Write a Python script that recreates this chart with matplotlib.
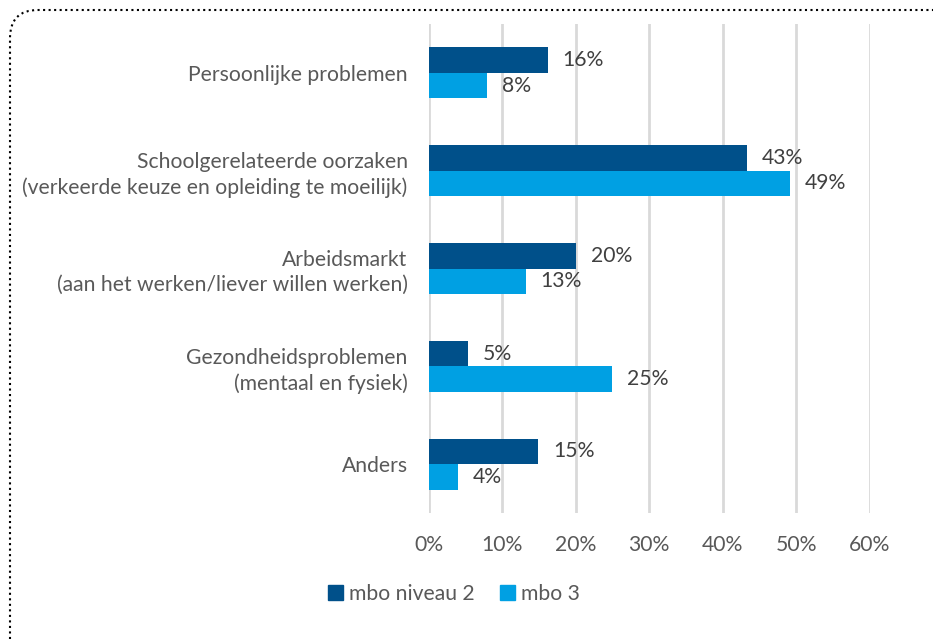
import numpy as np
import matplotlib
matplotlib.use("Agg")
import matplotlib.pyplot as plt
from matplotlib.patches import FancyBboxPatch, Patch

plt.rcParams['font.family'] = ['Lato', 'DejaVu Sans']

categories = ["Persoonlijke problemen",
              "Schoolgerelateerde oorzaken\n(verkeerde keuze en opleiding te moeilijk)",
              "Arbeidsmarkt\n(aan het werken/liever willen werken)",
              "Gezondheidsproblemen\n(mentaal en fysiek)",
              "Anders"]
niveau2 = [16.2, 43.3, 20.1, 5.4, 14.9]
mbo3 = [8.0, 49.1, 13.2, 25.0, 4.0]
series_names = ["mbo niveau 2", "mbo 3"]
xticks = [0, 10, 20, 30, 40, 50, 60]

dark = "#00508A"
light = "#00A0E3"
grey = "#595959"
fs = 15.2

fig = plt.figure(figsize=(9.33, 6.39), dpi=100)
ax = fig.add_axes([428.5/933, 1-513/639, (870-428.5)/933, (513-24)/639])

y = np.arange(len(categories))
h = 0.26
ax.barh(y - h/2, niveau2, height=h, color=dark, zorder=3)
ax.barh(y + h/2, mbo3, height=h, color=light, zorder=3)

for yi, v in zip(y, niveau2):
    ax.text(v + 2.0, yi - h/2, "%.0f%%" % v, va='center', ha='left', fontsize=fs, color="#404040")
for yi, v in zip(y, mbo3):
    ax.text(v + 2.0, yi + h/2, "%.0f%%" % v, va='center', ha='left', fontsize=fs, color="#404040")

ax.set_xlim(0, 60)
ax.set_ylim(len(categories) - 0.5, -0.5)
ax.set_xticks(xticks)
ax.set_xticklabels(["%d%%" % t for t in xticks], fontsize=fs, color=grey)
ax.set_yticks(y)
ax.set_yticklabels(categories, fontsize=fs, color=grey, linespacing=1.3)
ax.tick_params(axis='y', length=0, pad=15)
ax.tick_params(axis='x', length=0, pad=16)
ax.grid(axis='x', color="#D9D9D9", linewidth=2, zorder=0)
for s in ax.spines.values():
    s.set_visible(False)

handles = [Patch(color=dark, label=series_names[0]), Patch(color=light, label=series_names[1])]
leg = fig.legend(handles=handles, loc='center', bbox_to_anchor=(454/933, 1-594/639), ncol=2,
                 frameon=False, fontsize=fs, handlelength=0.7, handleheight=0.7,
                 handletextpad=0.3, columnspacing=1.2)
for t in leg.get_texts():
    t.set_color(grey)

# dotted rounded border, cut off at right and bottom
border = FancyBboxPatch((10/933, -0.05), 1.1, 1 - 10/639 + 0.05,
                        boxstyle="round,pad=0,rounding_size=0.03",
                        transform=fig.transFigure, fill=False, edgecolor="black",
                        linestyle=':', linewidth=1.5, mutation_aspect=933/639)
fig.patches.append(border)

fig.savefig("out.png", dpi=100)
